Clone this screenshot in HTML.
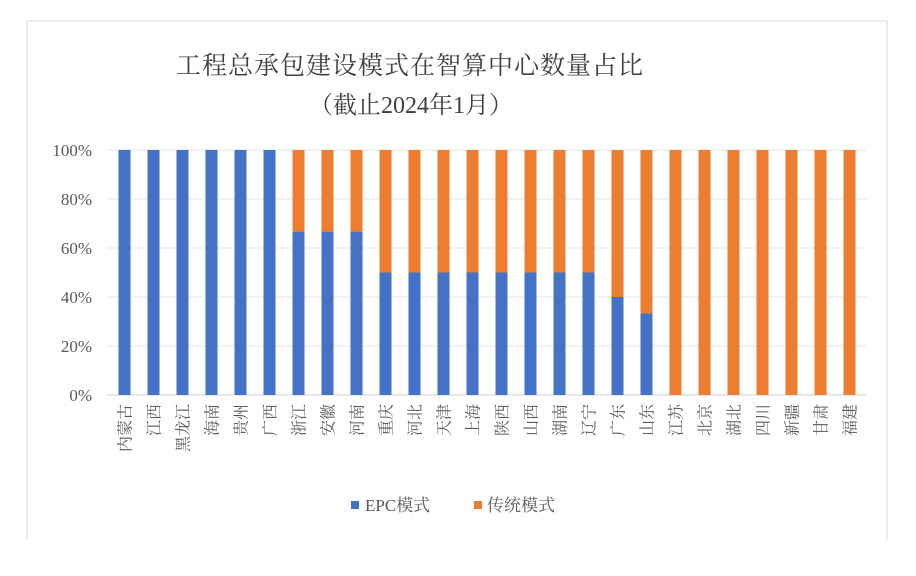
<!DOCTYPE html>
<html><head><meta charset="utf-8"><style>
html,body{margin:0;padding:0;background:#fff;width:916px;height:576px;overflow:hidden}
svg{display:block}
text{font-family:"Liberation Serif","Noto Serif CJK SC",serif;fill:#595959}
</style></head><body>
<svg id="chart" width="916" height="576">
<line x1="27" y1="21" x2="887" y2="21" stroke="#d9d9d9"/>
<line x1="27" y1="21" x2="27" y2="540" stroke="#d9d9d9"/>
<line x1="887" y1="21" x2="887" y2="540" stroke="#d9d9d9"/>
<text x="410" y="74" text-anchor="middle" font-size="25" style="fill:#404040;letter-spacing:1px">工程总承包建设模式在智算中心数量占比</text>
<text x="411" y="113" text-anchor="middle" font-size="24" style="fill:#404040">（截止2024年1月）</text>
<g id="grid"></g><g id="bars"></g><g id="xlabels"></g><g id="ylabels"></g>
<g>
<rect x="351" y="501" width="8" height="8" fill="#4472c4"/>
<text x="365" y="511" font-size="17">EPC模式</text>
<rect x="474" y="501" width="8" height="8" fill="#ed7d31"/>
<text x="487" y="511" font-size="17">传统模式</text>
</g>
</svg>
<script>
const categories=["内蒙古","江西","黑龙江","海南","贵州","广西","浙江","安徽","河南","重庆","河北","天津","上海","陕西","山西","湖南","辽宁","广东","山东","江苏","北京","湖北","四川","新疆","甘肃","福建"];
const epcValues=[100,100,100,100,100,100,66.7,66.7,66.7,50,50,50,50,50,50,50,50,40,33.3,0,0,0,0,0,0,0];
const traditionalValues=[0,0,0,0,0,0,33.3,33.3,33.3,50,50,50,50,50,50,50,50,60,66.7,100,100,100,100,100,100,100];
const yTicks=[0,20,40,60,80,100];
const NS="http://www.w3.org/2000/svg";
const x0=110,band=29,yTop=150,yBot=395,barW=12;
function xs(i){return x0+band*i+band/2;}
function ys(v){return yBot-(yBot-yTop)*v/100;}
function mk(tag,attrs,parent){const e=document.createElementNS(NS,tag);for(const k in attrs)e.setAttribute(k,attrs[k]);parent.appendChild(e);return e;}
const grid=document.getElementById('grid'),bars=document.getElementById('bars'),xl=document.getElementById('xlabels'),yl=document.getElementById('ylabels');
yTicks.forEach(t=>{
  const l=mk('line',{x1:x0-3,x2:x0+band*categories.length+2,y1:ys(t),y2:ys(t),stroke:t===0?'#d0d0d0':'#e6e6e6'},grid);
  
  
  const tx=mk('text',{x:92,y:ys(t)+6,'text-anchor':'end','font-size':17},yl);
  tx.textContent=t+'%';
  
  
});
categories.forEach((c,i)=>{
  const cx=xs(i);
  const e=epcValues[i],tr=traditionalValues[i];
  if(e>0){const r=mk('rect',{x:cx-barW/2,y:ys(e),width:barW,height:yBot-ys(e),fill:'#4472c4'},bars);
    
    }
  if(tr>0){const r=mk('rect',{x:cx-barW/2,y:ys(e+tr),width:barW,height:ys(e)-ys(e+tr),fill:'#ed7d31'},bars);
    
    }
  const t=mk('text',{x:0,y:0,'text-anchor':'end','font-size':16,transform:'translate('+(cx+6)+',404) rotate(-90)'},xl);
  t.textContent=c;
  
  
});
</script>
</body></html>
